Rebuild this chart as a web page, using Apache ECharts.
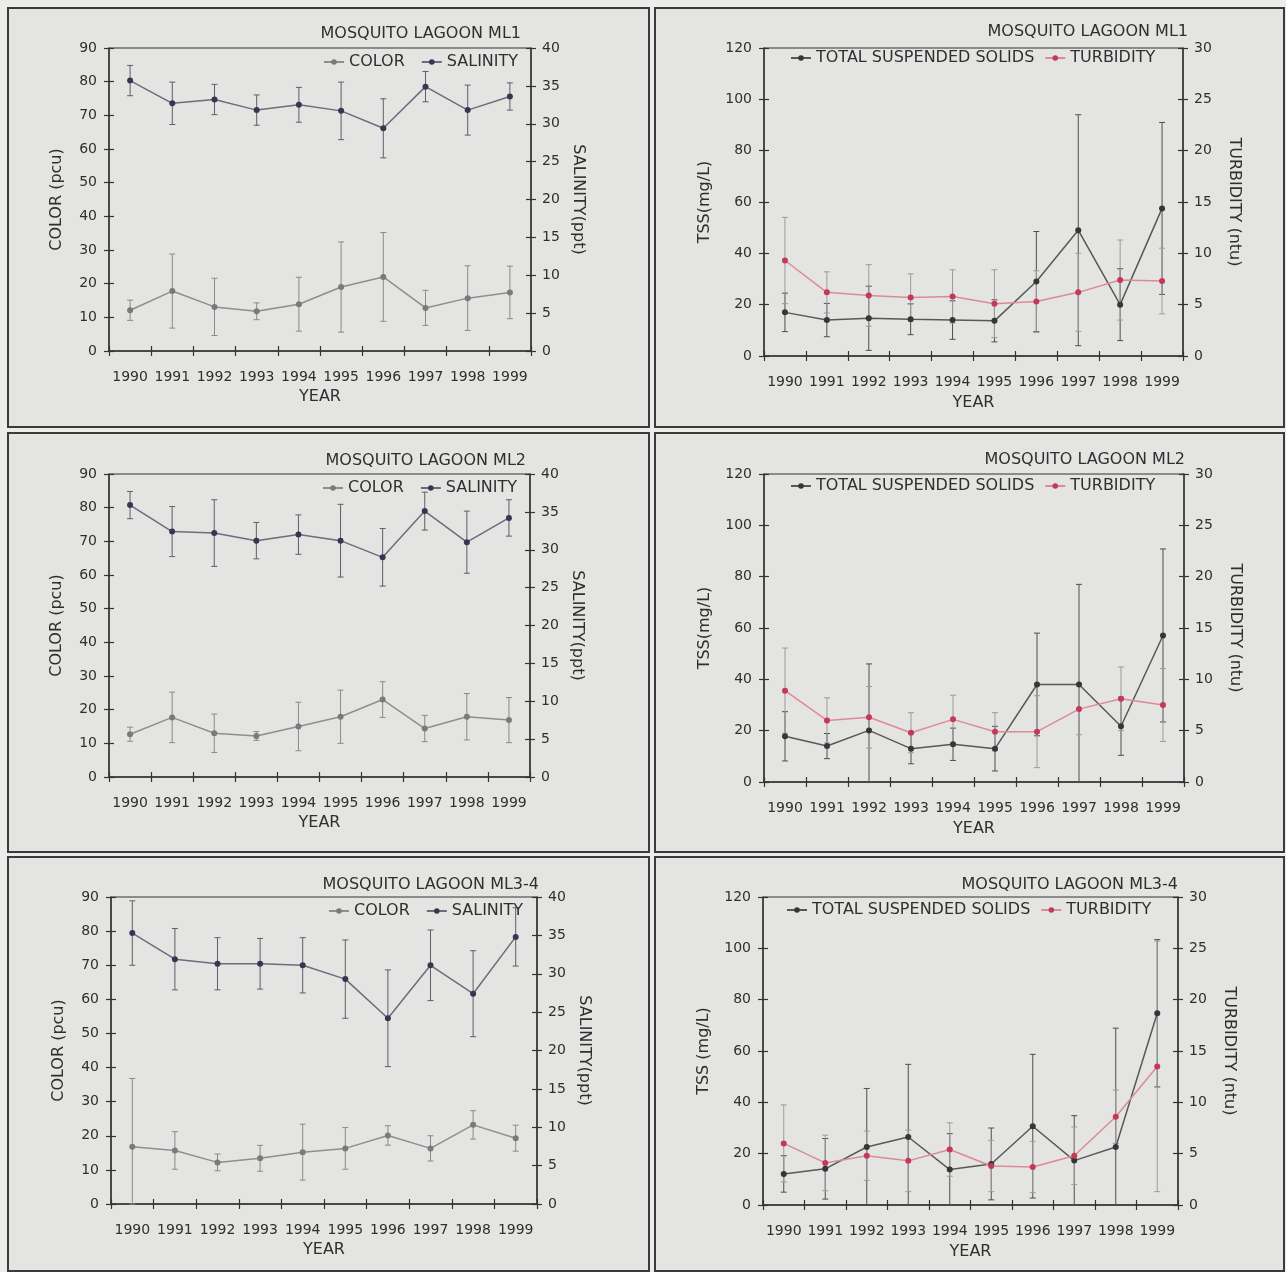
<!DOCTYPE html>
<html>
<head>
<meta charset="utf-8">
<script src="https://cdn.jsdelivr.net/npm/echarts@6/dist/echarts.min.js"></script>
<style>
  html, body { margin: 0; padding: 0; background: #ececea; }
  #chart { width: 1286px; height: 1272px; }
</style>
</head>
<body>
<div id="chart"></div>
<script>
// ---------------- DATA ----------------
const years = ['1990','1991','1992','1993','1994','1995','1996','1997','1998','1999'];

// axis ranges [min, max, interval]
const colorAxis = [0, 90, 10];
const salAxis   = [0, 40, 5];
const tssAxis   = [0, 120, 20];
const turbAxis  = [0, 30, 5];

// ML1
const ml1Color   = [12.1, 17.8, 13.1, 11.8, 13.9, 19.0, 22.0, 12.8, 15.7, 17.4];
const ml1ColorSd = [3.0, 11.0, 8.5, 2.5, 8.0, 13.4, 13.2, 5.2, 9.6, 7.8];
const ml1Sal     = [35.7, 32.7, 33.2, 31.8, 32.5, 31.7, 29.4, 34.9, 31.8, 33.6];
const ml1SalSd   = [2.0, 2.8, 2.0, 2.0, 2.3, 3.8, 3.9, 2.0, 3.3, 1.8];
const ml1Tss     = [17.0, 14.0, 14.7, 14.3, 14.0, 13.7, 29.0, 49.0, 20.0, 57.5];
const ml1TssSd   = [7.5, 6.5, 12.5, 6.0, 7.5, 8.2, 19.5, 45.0, 14.0, 33.5];
const ml1Turb    = [9.3, 6.2, 5.9, 5.7, 5.8, 5.1, 5.3, 6.2, 7.4, 7.3];
const ml1TurbSd  = [4.2, 2.0, 3.0, 2.3, 2.6, 3.3, 3.0, 3.8, 3.9, 3.2];

// ML2
const ml2Color   = [12.7, 17.7, 13.0, 12.2, 15.0, 17.9, 23.0, 14.4, 17.9, 16.9];
const ml2ColorSd = [2.1, 7.5, 5.7, 1.3, 7.2, 7.9, 5.3, 3.9, 6.9, 6.7];
const ml2Sal     = [35.9, 32.4, 32.2, 31.2, 32.0, 31.2, 29.0, 35.1, 31.0, 34.2];
const ml2SalSd   = [1.8, 3.3, 4.4, 2.4, 2.6, 4.8, 3.8, 2.5, 4.1, 2.4];
const ml2Tss     = [17.8, 14.0, 20.1, 13.0, 14.7, 13.0, 38.0, 38.0, 21.7, 57.1];
const ml2TssSd   = [9.6, 4.9, 25.9, 5.9, 6.3, 8.7, 20.0, 39.0, 11.3, 33.7];
const ml2Turb    = [8.9, 6.0, 6.3, 4.8, 6.1, 4.9, 4.9, 7.1, 8.1, 7.5];
const ml2TurbSd  = [4.15, 2.2, 3.0, 1.95, 2.35, 1.85, 3.5, 2.5, 3.1, 3.55];

// ML3-4
const ml3Color   = [16.8, 15.7, 12.2, 13.4, 15.2, 16.3, 20.1, 16.3, 23.2, 19.3];
const ml3ColorSd = [20.0, 5.5, 2.45, 3.8, 8.2, 6.1, 2.85, 3.7, 4.15, 3.8];
const ml3Sal     = [35.3, 31.9, 31.3, 31.3, 31.1, 29.3, 24.2, 31.1, 27.4, 34.8];
const ml3SalSd   = [4.2, 4.0, 3.4, 3.3, 3.6, 5.1, 6.3, 4.6, 5.6, 3.8];
const ml3Tss     = [12.1, 14.1, 22.6, 26.5, 13.8, 16.0, 30.7, 17.3, 22.6, 74.7];
const ml3TssSd   = [7.1, 11.8, 22.8, 28.3, 14.0, 14.0, 28.0, 17.5, 46.3, 28.7];
const ml3Turb    = [6.0, 4.1, 4.8, 4.3, 5.4, 3.8, 3.7, 4.8, 8.6, 13.5];
const ml3TurbSd  = [3.75, 2.7, 2.4, 3.0, 2.6, 2.5, 2.5, 2.8, 2.6, 12.2];

// ---------------- STYLE / LAYOUT ----------------
const FONT = 'DejaVu Sans';
const TXT = '#2f2f2f';
const AX = '#333333';

const seriesStyle = {
  'COLOR':    { line: '#8e8e8e', sym: '#7a7a7a', err: '#8a8a8a' },
  'SALINITY': { line: '#6c6c7c', sym: '#363650', err: '#5e5e66' },
  'TOTAL SUSPENDED SOLIDS': { line: '#585858', sym: '#363636', err: '#4e4e4e' },
  'TURBIDITY': { line: '#dd8a98', sym: '#c43a56', err: '#a09a9c' }
};

const panels = [
  { site: 'ML1', kind: 'cs', box: [8, 8, 641, 419], grid: [109, 48, 531, 351], title: [521, 35], legend: [323, 63],
    a: ml1Color, aSd: ml1ColorSd, b: ml1Sal, bSd: ml1SalSd },
  { site: 'ML1', kind: 'tt', box: [655, 8, 629, 419], grid: [764, 48, 1183, 356], title: [1188, 33], legend: [790, 59],
    a: ml1Tss, aSd: ml1TssSd, b: ml1Turb, bSd: ml1TurbSd },
  { site: 'ML2', kind: 'cs', box: [8, 433, 641, 419], grid: [109, 474, 530, 777], title: [526, 462], legend: [322, 489],
    a: ml2Color, aSd: ml2ColorSd, b: ml2Sal, bSd: ml2SalSd },
  { site: 'ML2', kind: 'tt', box: [655, 433, 629, 419], grid: [764, 474, 1184, 782], title: [1185, 461], legend: [790, 487],
    a: ml2Tss, aSd: ml2TssSd, b: ml2Turb, bSd: ml2TurbSd },
  { site: 'ML3-4', kind: 'cs', box: [8, 857, 641, 414], grid: [111, 897, 537, 1204], title: [539, 886], legend: [328, 912],
    a: ml3Color, aSd: ml3ColorSd, b: ml3Sal, bSd: ml3SalSd },
  { site: 'ML3-4', kind: 'tt', box: [655, 857, 629, 414], grid: [763, 897, 1178, 1205], title: [1178, 886], legend: [786, 911],
    a: ml3Tss, aSd: ml3TssSd, b: ml3Turb, bSd: ml3TurbSd }
];

const grids = [], xAxes = [], yAxes = [], series = [], titles = [], legends = [], graphics = [];

function errSeries(name, gi, yIdx, means, sds, color) {
  return {
    type: 'custom', name: name, xAxisIndex: gi * 2, yAxisIndex: yIdx, z: 1, silent: true,
    data: means.map((m, i) => [i, m, sds[i]]),
    encode: { x: 0, y: 1 },
    renderItem: function (params, api) {
      const x = api.value(0), m = api.value(1), sd = api.value(2);
      const top = api.coord([x, m + sd]);
      const bot = api.coord([x, Math.max(0, m - sd)]);
      const w = 3;
      const st = { stroke: color, lineWidth: 1 };
      return { type: 'group', children: [
        { type: 'line', shape: { x1: top[0], y1: top[1], x2: bot[0], y2: bot[1] }, style: st },
        { type: 'line', shape: { x1: top[0] - w, y1: top[1], x2: top[0] + w, y2: top[1] }, style: st },
        { type: 'line', shape: { x1: bot[0] - w, y1: bot[1], x2: bot[0] + w, y2: bot[1] }, style: st }
      ]};
    }
  };
}

function lineSeries(name, gi, yIdx, values) {
  const s = seriesStyle[name];
  return {
    type: 'line', name: name, xAxisIndex: gi * 2, yAxisIndex: yIdx, z: 3,
    data: values, symbol: 'circle', symbolSize: 6, showSymbol: true,
    lineStyle: { color: s.line, width: 1.5 },
    itemStyle: { color: s.sym },
    emphasis: { disabled: true }, animation: false
  };
}

function valueAxis(gi, pos, rng, name, rot, gap, main) {
  const base = {
    gridIndex: gi, type: 'value', position: pos, min: rng[0], max: rng[1], interval: rng[2],
    splitLine: { show: false }
  };
  if (main) {
    Object.assign(base, {
      name: name, nameLocation: 'middle', nameRotate: rot, nameGap: gap,
      nameTextStyle: { fontFamily: FONT, fontSize: 16, color: TXT },
      axisLine: { show: true, lineStyle: { color: AX, width: 1.5 } },
      axisTick: { show: true, length: 5, lineStyle: { color: AX, width: 1.2 } },
      axisLabel: { show: true, fontFamily: FONT, fontSize: 14, color: TXT, margin: pos === 'left' ? 12 : 11 }
    });
  } else {
    Object.assign(base, {
      axisLine: { show: false },
      axisTick: { show: true, inside: true, length: 5, lineStyle: { color: AX, width: 1.2 } },
      axisLabel: { show: false }
    });
  }
  return base;
}

panels.forEach((p, gi) => {
  const [gl, gt, gr, gb] = p.grid;
  const cs = p.kind === 'cs';
  const nameA = cs ? 'COLOR' : 'TOTAL SUSPENDED SOLIDS';
  const nameB = cs ? 'SALINITY' : 'TURBIDITY';

  graphics.push({ type: 'rect', z: -10, silent: true,
    shape: { x: p.box[0], y: p.box[1], width: p.box[2], height: p.box[3] },
    style: { fill: '#e4e4e2', stroke: '#3a3a3a', lineWidth: 2 } });

  grids.push({ left: gl, top: gt, width: gr - gl, height: gb - gt, show: true,
    borderColor: AX, borderWidth: 1, backgroundColor: 'transparent', containLabel: false, outerBoundsMode: 'none' });

  xAxes.push({ gridIndex: gi, type: 'category', data: years, position: 'bottom',
    name: 'YEAR', nameLocation: 'middle', nameGap: cs ? 38 : 39,
    nameTextStyle: { fontFamily: FONT, fontSize: 16, color: TXT },
    axisLine: { show: true, lineStyle: { color: AX, width: 1.5 } },
    axisTick: { show: true, length: 5, lineStyle: { color: AX, width: 1.2 } },
    axisLabel: { fontFamily: FONT, fontSize: 14, color: TXT, margin: 19, interval: 0 } });
  xAxes.push({ gridIndex: gi, type: 'category', data: years, position: 'bottom',
    axisLine: { show: false }, axisTick: { show: true, inside: true, length: 5, lineStyle: { color: AX, width: 1.2 } },
    axisLabel: { show: false } });

  const leftName = cs ? 'COLOR (pcu)' : (p.site === 'ML3-4' ? 'TSS (mg/L)' : 'TSS(mg/L)');
  const rightName = cs ? 'SALINITY(ppt)' : 'TURBIDITY (ntu)';
  yAxes.push(valueAxis(gi, 'left', cs ? colorAxis : tssAxis, leftName, 90, cs ? 44 : 51, true));
  yAxes.push(valueAxis(gi, 'right', cs ? salAxis : turbAxis, rightName, -90, cs ? 39 : 43, true));
  yAxes.push(valueAxis(gi, 'left', cs ? colorAxis : tssAxis, '', 0, 0, false));
  yAxes.push(valueAxis(gi, 'right', cs ? salAxis : turbAxis, '', 0, 0, false));

  series.push(errSeries(nameA + ' error ' + p.site, gi, gi * 4, p.a, p.aSd, seriesStyle[nameA].err));
  series.push(errSeries(nameB + ' error ' + p.site, gi, gi * 4 + 1, p.b, p.bSd, seriesStyle[nameB].err));
  series.push(lineSeries(nameA, gi, gi * 4, p.a));
  series.push(lineSeries(nameB, gi, gi * 4 + 1, p.b));

  titles.push({ text: 'MOSQUITO LAGOON ' + p.site, right: 1286 - p.title[0], top: p.title[1] - 9, padding: 0,
    textStyle: { fontFamily: FONT, fontSize: 16, fontWeight: 'normal', color: TXT } });

  legends.push({ data: [nameA, nameB], left: p.legend[0], top: p.legend[1] - 9, padding: 0,
    orient: 'horizontal', itemWidth: 20, itemHeight: 7, itemGap: cs ? 16 : 10, selectedMode: false,
    textStyle: { fontFamily: FONT, fontSize: 16, color: TXT } });
});

const chart = echarts.init(document.getElementById('chart'), null, { renderer: 'canvas', width: 1286, height: 1272 });
chart.setOption({
  backgroundColor: '#ececea',
  animation: false,
  title: titles,
  legend: legends,
  grid: grids,
  xAxis: xAxes,
  yAxis: yAxes,
  series: series,
  graphic: { elements: graphics }
});
</script>
</body>
</html>
